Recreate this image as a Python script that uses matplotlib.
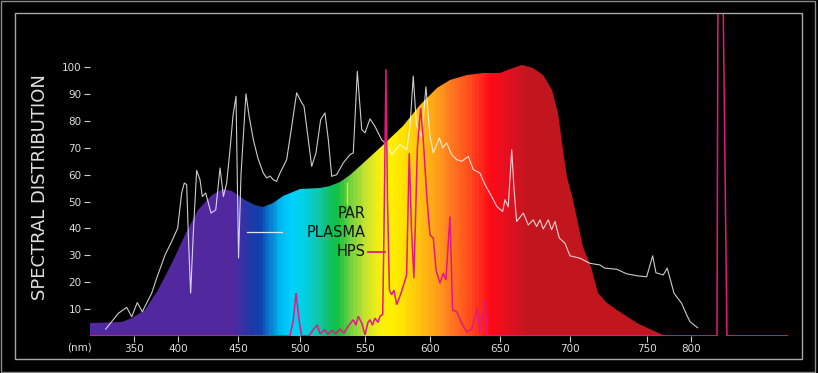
import numpy as np
import matplotlib
matplotlib.use("Agg")
import matplotlib.pyplot as plt
from matplotlib.colors import LinearSegmentedColormap, Normalize
from matplotlib.patches import Polygon, Rectangle
from matplotlib.ticker import NullLocator

# ---------------- data (wavelength in nm, relative value) ----------------
par_wl = [300, 336, 347.4, 362.4, 377.4, 392.5, 405.6, 416.7, 427.8, 437.5, 444.5,
          455.4, 463.5, 470.3, 478, 486.5, 500, 515.4, 523.1, 530.8, 538.5, 546.2,
          555, 564.1, 579.5, 592.5, 605, 614.5, 626.4, 638.3, 650.2, 657.4, 665.7,
          674, 681.1, 687.1, 691.9, 695.4, 698.1, 702.3, 708.8, 713.5, 718.4,
          724, 730.3, 743.2, 756, 770.4]
par_val = [4.9, 5.3, 6.5, 9.6, 17.1, 27.0, 37.6, 46.9, 52.5, 54.7, 53.8,
           50.7, 48.8, 48.1, 49.5, 52.1, 54.5, 55.1, 55.8, 57.4, 60.0, 63.1,
           67.0, 71.2, 78.0, 86.0, 92.4, 95.4, 97.3, 97.9, 97.9, 99.2, 100.7,
           99.8, 97.3, 91.7, 83.0, 69.3, 59.3, 50.7, 33.2, 25.8, 15.9,
           12.1, 9.6, 4.7, 2.2, 0.0]

plasma_wl = [317.8, 332.2, 341.7, 347.4, 353.7, 359.4, 370, 375.6, 385, 392.5, 399.3,
             402.8, 405, 407, 408.3, 410.3, 412.5, 415.3, 418.1, 420, 422.8, 427.3,
             431.2, 434.8, 437.6, 440.3, 443.1, 445.6, 448.1, 450.2, 452.2, 456.2,
             458.7, 462.2, 466, 470.3, 473, 475.7, 478.4, 481, 483.8, 489.2, 493.3,
             497.3, 501.3, 503.1, 506.4, 509, 512.3, 515.9, 519.2, 521.8, 524.4,
             528.2, 533.3, 538.5, 541, 544.1, 547.5, 550, 553.9, 557.7, 562.9, 566.8,
             570.6, 577, 582.2, 584.8, 587.3, 589.8, 593.8, 597.1, 600.2, 602.6,
             606.9, 609.3, 612.1, 615.7, 619.3, 622.9, 627.6, 631.1, 635.9, 639.5,
             644.3, 647.9, 652.1, 653.8, 656.1, 658.6, 660.2, 662.1, 666.9, 670.4,
             674, 676.4, 678.8, 681.1, 684.7, 687.1, 689.5, 692.6, 696.6, 700.2,
             706.6, 713.1, 719.5, 722.7, 730.3, 736.7, 744.2, 749.6, 756.2, 760,
             768.4, 773, 780.8, 789.6, 795.4, 799.2, 808.1]
plasma_val = [2.5, 8.4, 10.6, 7.1, 12.4, 9.0, 15.9, 21.5, 30.1, 35.1, 40.1,
              53.2, 56.9, 56.3, 38.2, 15.9, 38.2, 61.6, 58.1, 51.9, 53.2, 45.7,
              46.9, 62.5, 51.9, 56.9, 69.3, 82.0, 89.2, 29.0, 60.0, 90.1,
              82.0, 73.0, 66.0, 60.6, 58.8, 59.5, 58.1, 57.5, 60.6, 65.6, 78.0,
              90.5, 86.8, 85.5, 73.0, 63.1, 68.1, 80.5, 83.0, 73.0, 59.4,
              60.0, 64.4, 67.5, 68.1, 98.5, 76.8, 75.6, 80.8, 78.0, 73.0, 71.2,
              67.5, 71.2, 69.3, 78.0, 96.7, 78.5, 74.3, 92.7, 74.3, 68.1,
              73.7, 70.0, 71.8, 67.5, 65.6, 65.0, 66.8, 61.9, 60.6, 56.3,
              51.9, 48.2, 46.3, 50.7, 48.0, 69.3, 55.0, 42.6, 45.7, 41.3,
              43.2, 40.7, 43.2, 39.8, 43.2, 39.5, 42.6, 36.4, 34.5, 29.8,
              28.9, 27.0, 26.4, 25.2, 24.8, 23.1, 22.3, 22.0, 29.8, 23.5,
              22.7, 25.2, 15.9, 12.1, 7.8, 5.3, 3.0]

hps_wl = [300, 491.9, 494.6, 496.8, 499.2, 501.3, 506.9, 510.2, 513.3, 515.4, 519.2,
          521.5, 524.6, 527.7, 530.8, 533.8, 536.9, 541, 543.1, 544.8, 547.5, 550,
          552.3, 553.9, 555.8, 557.7, 560, 561.6, 563.7, 564.7, 566.2, 567.4, 568.9,
          570.6, 572.4, 574.5, 578.3, 582.2, 584.2, 585.9, 587.8, 590.5, 593, 595.2,
          597.7, 600.2, 602.6, 604.5, 607.4, 609.7, 611.6, 614.5, 616.4, 619.3,
          622.9, 626.4, 630, 634, 635.9, 639.5, 641.1, 830.4, 831.5, 837.3, 841.9,
          912.4]
hps_val = [0, 0, 6, 16, 6, 0, 0, 2.3, 4.1, 0.8, 2.3,
           0.5, 2.0, 0.8, 2.5, 1.0, 3.5, 6.0, 4.0, 7.3, 4.8, 0.4,
           5.0, 6.0, 4.0, 6.6, 5.0, 7.3, 8.0, 40, 99.3, 50, 17,
           15.3, 17, 11.6, 16.5, 22.7, 68, 40, 21.5, 70, 84.9, 72,
           52.5, 37.6, 36.4, 24.6, 19.6, 23.3, 20.8, 44.4, 9.6, 9.0,
           4.7, 1.5, 2.5, 10.3, 1.0, 13.4, 0, 0, 130, 130, 0,
           0]

x_ticks = [350, 400, 450, 500, 550, 600, 650, 700, 750, 800]
y_ticks = [10, 20, 30, 40, 50, 60, 70, 80, 90, 100]
series_labels = ["PAR", "PLASMA", "HPS"]
y_axis_title = "SPECTRAL DISTRIBUTION"
x_unit = "(nm)"

# spectral gradient stops (wavelength -> colour)
grad_wl = [300, 443, 451.4, 459.5, 467.6, 475.7, 483.8, 491.9, 502.3, 513.1, 520.8,
           528.5, 538.5, 548.5, 561.6, 569.3, 577, 592.5, 605, 614.5, 628.8, 643.1,
           657.4, 669.5, 950]
grad_col = ['#52289e', '#52289e', '#3f2ea6', '#1b3aa6', '#1040b0', '#0880d0', '#00b8f0',
            '#00d2ff', '#00d0e6', '#10c8b0', '#10c070', '#10c040', '#70d040', '#c0e030',
            '#f8f010', '#fff000', '#ffe600', '#ffc010', '#ffa018', '#ff7c20', '#ff4a1c',
            '#ff0a18', '#e01020', '#c2161f', '#c2161f']

# ---------------- non-uniform wavelength axis of the original ----------------
AXIS_WL = [250, 300, 350, 400, 450, 500, 550, 600, 650, 700, 750, 800, 850, 950]
AXIS_POS = [46, 90, 134, 178.3, 238.3, 300, 365, 429.7, 499.7, 569.7, 647.3, 690.7, 734, 820.6]


def fwd(x):
    return np.interp(np.asarray(x, dtype=float), AXIS_WL, AXIS_POS)


def inv(p):
    return np.interp(np.asarray(p, dtype=float), AXIS_POS, AXIS_WL)


W, H = 818, 373
fig = plt.figure(figsize=(W / 100, H / 100), dpi=100, facecolor='black')

ax_left, ax_right, ax_top, ax_bot = 90, 788, 13, 335.86
ax = fig.add_axes([ax_left / W, (H - ax_bot) / H, (ax_right - ax_left) / W, (ax_bot - ax_top) / H])
ax.set_facecolor('black')
ax.set_xscale('function', functions=(fwd, inv))
ax.set_xlim(300, 912.4)
ax.set_ylim(0, 120.2)

# gradient fill clipped to PAR curve
lo, hi = 300, 950
cmap = LinearSegmentedColormap.from_list(
    'spec', [((w - lo) / (hi - lo), c) for w, c in zip(grad_wl, grad_col)])
Xg = np.linspace(300, 912.4, 900)
Yg = np.array([0, 125])
Cg = ((Xg[:-1] + Xg[1:]) / 2)[None, :]
mesh = ax.pcolormesh(Xg, Yg, Cg, cmap=cmap, norm=Normalize(lo, hi), shading='flat',
                     antialiased=False, linewidth=0, zorder=1)
verts = [(par_wl[0], 0)] + list(zip(par_wl, par_val)) + [(par_wl[-1], 0)]
clip = Polygon(verts, closed=True, transform=ax.transData, facecolor='none', edgecolor='none')
ax.add_patch(clip)
mesh.set_clip_path(clip)

# plasma line
ax.plot(plasma_wl, plasma_val, color='white', alpha=0.8, lw=0.8, zorder=3)
# HPS line
hps_color = '#e6187f'
ax.plot(hps_wl, hps_val, color=hps_color, lw=1.1, zorder=4, solid_joinstyle='miter')

# ticks
ax.set_xticks(x_ticks)
ax.set_xticklabels([str(t) for t in x_ticks])
ax.set_yticks(y_ticks)
ax.set_yticklabels([str(t) for t in y_ticks])
ax.xaxis.set_minor_locator(NullLocator())
ax.yaxis.set_minor_locator(NullLocator())
ax.tick_params(axis='x', direction='out', length=4, width=0.8, color='#cfcfcf',
               labelcolor='#dddddd', labelsize=7.5, pad=2)
ax.tick_params(axis='y', direction='out', length=4.5, width=0.8, color='#cfcfcf',
               labelcolor='#dddddd', labelsize=7.5, pad=1.5)
for s in ax.spines.values():
    s.set_visible(False)

# legend (text + sample lines, as in the original)
def fx(px):
    return (px - ax_left) / (ax_right - ax_left)


def fy(py):
    return (ax_bot - py) / (ax_bot - ax_top)


ax.plot([fx(346.7), fx(346.7)], [fy(183.3), fy(203.5)], transform=ax.transAxes,
        color='#f2f200', lw=1.0, zorder=5)
ax.plot([fx(246.7), fx(281.7)], [fy(232.3), fy(232.3)], transform=ax.transAxes,
        color='#e6e6e6', lw=0.9, zorder=5)
ax.plot([fx(368.3), fx(384.5)], [fy(251.7), fy(251.7)], transform=ax.transAxes,
        color=hps_color, lw=1.3, zorder=5)
for lab, base in zip(series_labels, [217.7, 236.7, 255.7]):
    ax.text(fx(366), fy(base), lab, transform=ax.transAxes, ha='right', va='baseline',
            color='#111111', fontsize=10.5, zorder=6)

# titles
fig.text(40 / W, (H - 187) / H, y_axis_title, rotation=90, ha='center', va='center',
         color='#e0e0e0', fontsize=13)
fig.text(80 / W, (H - 347) / H, x_unit, ha='center', va='center', color='#dddddd',
         fontsize=7.5)

# frames
fig.add_artist(Rectangle((14.7 / W, (H - 359.3) / H), (802 - 14.7) / W, (359.3 - 12.7) / H,
                         transform=fig.transFigure, fill=False, edgecolor='#a8a8a8', lw=1.0))
fig.add_artist(Rectangle((1.0 / W, 1.3 / H), 813.5 / W, 370.5 / H,
                         transform=fig.transFigure, fill=False, edgecolor='#8a8a8a', lw=1.0))

fig.savefig('out.png', dpi=100, facecolor='black')
